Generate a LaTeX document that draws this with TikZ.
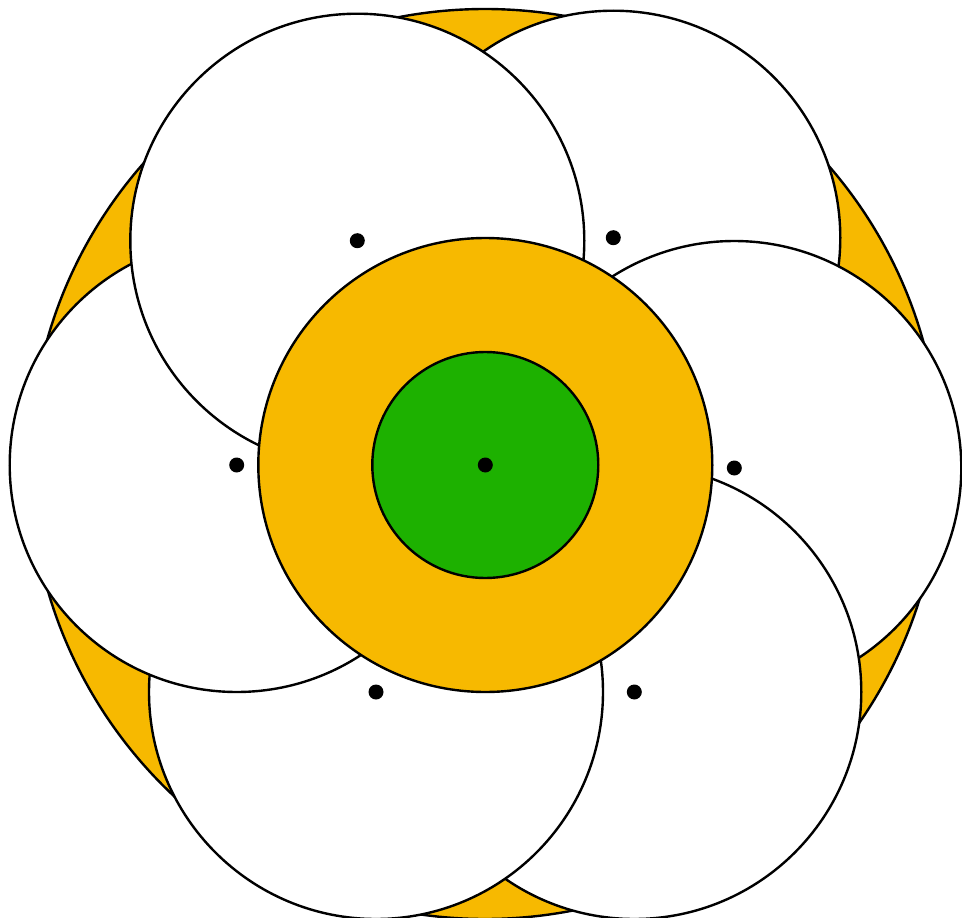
\documentclass[tikz,border=0pt]{standalone}
\definecolor{orng}{HTML}{F7B900}
\definecolor{grn}{HTML}{1DB100}
\begin{document}
\begin{tikzpicture}[x=1pt,y=-1pt,
  ring/.style={draw=black,line width=2.4pt},
  petal/.style={ring,fill=white,circle,minimum size=454pt,inner sep=0pt},
  dot/.style={circle,fill=black,minimum size=15pt,inner sep=0pt}]
\useasboundingbox (0,0) rectangle (962,918);
\node[ring,circle,fill=orng,minimum size=910pt,inner sep=0pt] (outer) at (485,464) {};
\node[petal] (tr) at (613.3,237.7) {};
\node[petal] (r) at (734.3,468) {};
\node[petal] (br) at (634.3,692) {};
\node[petal] (bl) at (376,692) {};
\node[petal] (l) at (236.7,465) {};
\node[petal] (tl) at (357.3,240.7) {};
\node[ring,circle,fill=orng,minimum size=454pt,inner sep=0pt] (mid) at (485.3,465) {};
\node[ring,circle,fill=grn,minimum size=226pt,inner sep=0pt] (inner) at (485.3,465) {};
\node[dot] (d0) at (inner.center) {};
\node[dot] (d1) at (tl.center) {};
\node[dot] (d2) at (tr.center) {};
\node[dot] (d3) at (r.center) {};
\node[dot] (d4) at (br.center) {};
\node[dot] (d5) at (bl.center) {};
\node[dot] (d6) at (l.center) {};
\end{tikzpicture}
\end{document}
